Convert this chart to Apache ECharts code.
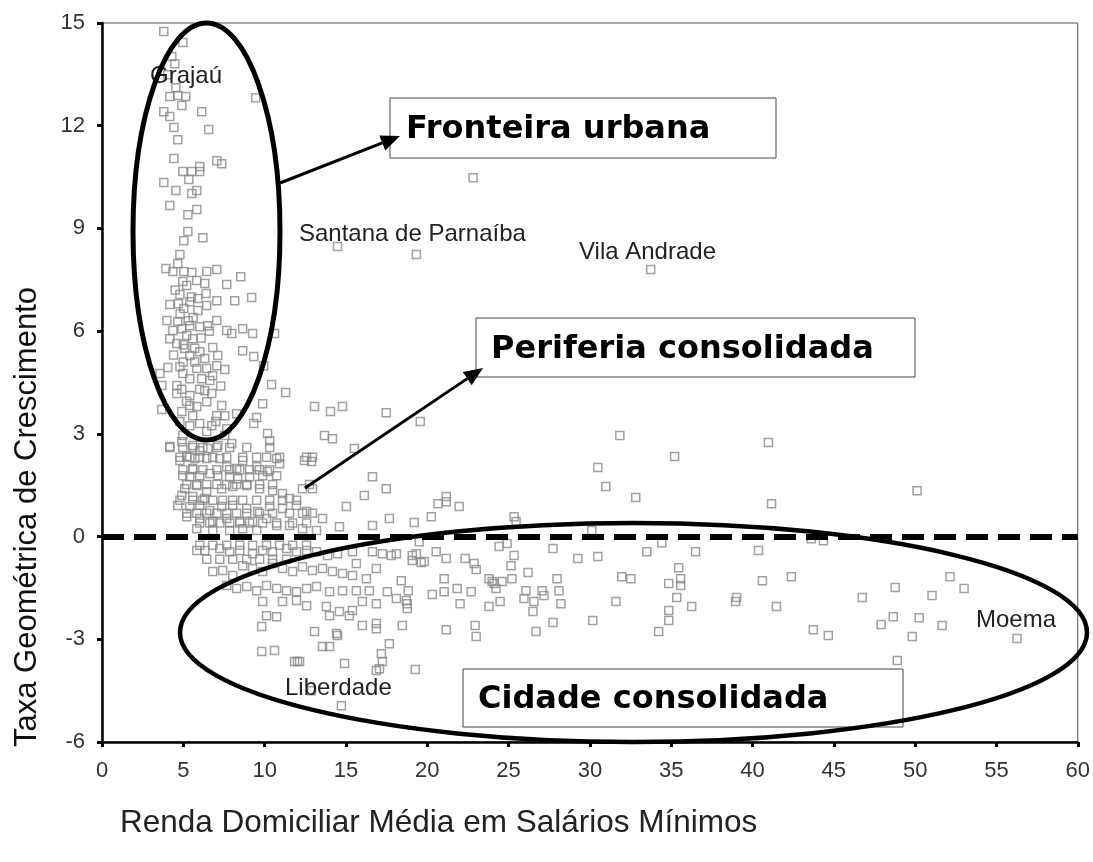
<!DOCTYPE html>
<html>
<head>
<meta charset="utf-8">
<script src="https://cdn.jsdelivr.net/npm/echarts@6/dist/echarts.min.js"></script>
<style>
html,body{margin:0;padding:0;background:#fff;}
#chart{width:1093px;height:862px;}
</style>
</head>
<body>
<div id="chart"></div>
<script>
// Axis ticks
const xTicks = [0, 5, 10, 15, 20, 25, 30, 35, 40, 45, 50, 55, 60];
const yTicks = [-6, -3, 0, 3, 6, 9, 12, 15];

// [Renda domiciliar média (SM), Taxa geométrica de crescimento (%)]
const pontosFronteira = [
[3.80,14.75],[4.97,14.43],[4.29,14.02],[4.48,13.81],[4.05,13.49],[4.54,13.11],[4.17,12.85],[4.66,12.88],[5.15,12.85],[4.91,12.59],
[9.45,12.82],[3.80,12.41],[4.17,12.27],[6.13,12.41],[4.42,11.95],[6.56,11.89],[4.66,11.59],[4.42,11.04],[7.06,10.98],[7.36,10.89],
[4.97,10.66],[5.52,10.66],[6.01,10.81],[6.01,10.66],[5.34,10.43],[3.80,10.34],[4.54,10.11],[5.52,10.02],[5.83,10.11],[4.17,9.67],
[5.28,9.40],[5.83,9.55],[5.28,8.91],[6.20,8.73],[5.03,8.64],[4.79,8.24],[4.66,7.97],[3.93,7.83],[4.36,7.74],[5.03,7.74],
[5.52,7.71],[6.44,7.74],[7.06,7.80],[8.53,7.59],[4.97,7.45],[5.21,7.33],[5.83,7.48],[6.32,7.39],[7.67,7.36],
[4.17,6.78],[4.79,7.07],[5.40,6.86],[5.89,6.95],[6.44,6.75],[7.06,6.89],[8.16,6.89],[9.20,6.98],[5.03,6.66],
[3.99,6.31],[4.66,6.28],[4.36,6.02],[4.91,6.07],[5.40,6.16],[6.01,6.13],[6.50,6.16],[7.06,6.31],[7.67,6.02],[7.98,5.93],
[8.65,6.07],[9.26,5.93],[10.61,5.93],[4.17,5.78],[4.60,5.64],[5.21,5.87],[5.58,5.78],
[5.09,5.49],[5.40,5.29],[6.01,5.40],[6.32,5.20],[6.81,5.52],[7.12,5.29],[8.65,5.43],[9.33,5.26],[9.94,4.99],[4.05,4.94],
[4.79,4.96],[4.97,4.76],[5.83,4.91],[6.44,4.91],[7.06,4.99],[7.55,4.88],
[3.56,4.76],[3.68,4.41],[4.60,4.41],[5.40,4.61],[6.13,4.61],[6.63,4.56],[6.32,4.26],[6.75,4.18],[5.40,4.12],[4.60,4.18],
[10.43,4.44],[11.29,4.21],
[4.50,7.20],[4.80,6.50],[5.60,6.40],[6.10,5.80],[4.40,5.30],[5.70,5.10],[6.80,4.70],[4.90,4.30],[5.20,3.95],[5.00,5.60],
[5.30,6.30],[5.90,6.60],[6.60,6.00],[5.00,5.10],[6.00,4.30],[7.30,4.40],[5.70,5.50],[4.70,6.80],[5.50,7.00],[6.40,7.10]
];

const pontosPeriferia = [
[3.68,3.71],[4.91,3.65],[5.40,3.83],[5.83,3.80],[6.44,3.94],[7.36,3.83],[7.55,3.53],[8.28,3.59],[9.51,3.48],[9.88,3.88],
[13.07,3.80],[14.05,3.65],[14.79,3.80],[17.48,3.62],[7.06,3.53],[5.58,3.53],
[4.79,3.36],[5.40,3.24],[6.01,3.30],[6.75,3.24],[6.99,3.36],[7.67,3.15],[9.33,3.30],[10.18,3.01],[10.31,2.80],[4.97,2.95],
[6.44,3.07],[7.55,2.95],[13.68,2.95],[14.17,2.86],
[4.17,2.63],[4.91,2.77],[5.58,2.66],[6.01,2.51],[6.50,2.57],[7.12,2.66],[7.98,2.72],[4.79,2.22],[5.21,2.34],[5.71,2.28],
[6.44,2.28],[7.24,2.28],[8.65,2.22],[9.51,2.04],[10.18,1.90],[10.74,2.28],[10.92,2.13],[12.45,2.22],[12.88,2.19],[15.52,2.57],
[5.58,1.99],[8.28,1.99],[7.67,2.04],
[4.97,1.78],[5.40,1.75],[6.01,1.78],[6.63,1.84],[7.12,1.78],[7.85,1.75],[8.34,1.69],[9.08,1.75],[9.88,1.78],[10.74,1.78],
[5.09,1.40],[5.83,1.49],[6.44,1.31],[7.36,1.40],[8.04,1.46],[8.90,1.49],[9.69,1.40],[10.49,1.34],[11.10,1.26],[11.53,1.11],
[12.33,1.40],[12.94,1.40],[16.63,1.75],[17.48,1.40],[16.13,1.20],[4.91,1.20],[5.58,1.17],[6.32,1.11],
[4.66,0.91],[5.40,0.88],[6.01,0.91],[6.63,0.76],[7.36,0.88],[8.04,0.91],[8.90,0.82],[9.57,0.73],[10.31,0.88],[11.10,0.82],
[11.96,0.91],[12.58,0.73],[13.56,0.53],[15.03,0.88],[16.63,0.32],[5.21,0.58],[6.01,0.53],[6.81,0.44],[7.67,0.53],[8.47,0.44],
[9.26,0.44],[10.12,0.53],[10.74,0.32],[11.53,0.32],[12.33,0.23],[13.19,0.18],[5.83,0.23],[6.81,0.18],[7.85,0.18],[8.65,0.23],
[9.51,0.18],[14.60,0.29],
[4.17,2.60],[4.97,2.60],[5.58,2.60],[6.20,2.60],[7.06,2.60],[7.85,2.60],[8.90,2.60],[10.31,2.60],
[4.79,2.32],[5.40,2.32],[6.01,2.32],[6.81,2.32],[7.67,2.32],[8.65,2.32],[9.51,2.32],[10.12,2.32],[10.92,2.32],[12.58,2.32],[12.94,2.32],
[4.97,1.95],[5.58,1.95],[6.20,1.95],[7.06,1.95],[7.85,1.95],[8.47,1.95],[9.08,1.95],[9.69,1.95],[10.31,1.95],
[5.21,1.52],[5.83,1.52],[6.44,1.52],[7.06,1.52],[7.67,1.52],[8.28,1.52],[8.90,1.52],[9.69,1.52],[10.49,1.52],[12.76,1.52],
[4.79,1.06],[5.58,1.06],[6.20,1.06],[6.81,1.06],[7.42,1.06],[8.04,1.06],[8.65,1.06],[9.51,1.06],[10.31,1.06],[11.10,1.06],[11.96,1.06],
[5.21,0.68],[5.83,0.68],[6.44,0.68],[7.06,0.68],[7.67,0.68],[8.28,0.68],[8.90,0.68],[9.69,0.68],[10.49,0.68],[11.53,0.68],[12.33,0.68],[12.94,0.68],
[6.01,0.40],[6.63,0.40],[7.24,0.40],[7.85,0.40],[8.47,0.40],[9.08,0.40],[9.88,0.40],[10.74,0.40],[11.72,0.40],[12.58,0.40],
[19.57,3.36],[31.84,2.95],[35.21,2.34],[40.98,2.75],[30.49,2.02],[30.98,1.46],[32.82,1.14],[41.17,0.96],[21.17,1.17],[21.17,1.02],
[20.67,0.96],[21.96,0.88],[20.25,0.58],[17.67,0.53],[19.20,0.41],[25.34,0.58],[25.46,0.44],[30.12,0.18],[50.12,1.34]
];

const pontosCidade = [
[5.83,-0.41],[6.32,-0.41],[7.24,-0.35],[7.85,-0.44],[8.47,-0.41],[9.26,-0.50],[9.88,-0.41],[10.49,-0.44],[11.35,-0.35],[11.96,-0.44],
[12.58,-0.41],[13.19,-0.44],[13.87,-0.55],[14.48,-0.50],[15.40,-0.44],[16.63,-0.44],[17.24,-0.50],[18.10,-0.50],[19.08,-0.55],
[6.01,-0.25],[6.81,-0.25],[7.67,-0.25],[8.47,-0.25],[9.26,-0.25],[10.12,-0.25],[10.92,-0.25],[11.72,-0.25],[12.58,-0.25],
[6.44,-0.66],[7.24,-0.66],[8.04,-0.66],[8.90,-0.66],[9.69,-0.66],[10.49,-0.66],[11.35,-0.66],
[6.81,-1.02],[7.42,-0.99],[8.04,-1.14],[8.65,-0.85],[9.26,-0.93],[9.88,-1.02],[10.49,-0.79],[11.10,-0.93],[11.72,-1.02],[12.33,-0.88],
[12.94,-0.99],[13.56,-0.93],[14.17,-1.02],[14.79,-1.08],[15.40,-1.14],[15.64,-0.79],[16.26,-1.23],[16.87,-0.93],
[7.67,-1.43],[8.28,-1.52],[8.90,-1.46],[9.51,-1.58],[10.12,-1.43],[10.74,-1.52],[11.35,-1.58],[11.96,-1.61],[12.58,-1.52],[13.19,-1.46],
[13.99,-1.61],[14.79,-1.58],[15.64,-1.58],[16.44,-1.58],[18.10,-1.81],
[9.88,-1.90],[11.10,-1.90],[11.96,-1.87],[12.58,-2.02],[13.80,-2.04],[13.99,-2.31],[14.60,-2.19],[15.40,-2.16],[16.01,-1.90],[16.87,-1.96],
[10.12,-2.31],[10.74,-2.34],[15.21,-2.31],
[9.82,-2.63],[13.07,-2.77],[14.42,-2.83],[14.48,-2.89],[16.01,-2.60],[16.87,-2.54],[16.87,-2.69],[9.82,-3.36],[10.61,-3.33],[13.56,-3.21],
[13.99,-3.21],[11.84,-3.65],[12.02,-3.65],[12.15,-3.65],[14.91,-3.71],[16.87,-3.91],[12.88,-4.50],[14.72,-4.94],
[34.42,-0.18],[19.51,-0.15],[19.33,-0.50],[17.79,-0.55],[19.08,-0.70],[19.63,-0.76],[19.82,-0.73],[20.55,-0.44],[21.17,-0.64],[22.33,-0.64],
[22.88,-0.79],[23.01,-0.96],[24.42,-0.29],[24.91,-0.20],[25.34,-0.55],[25.15,-0.85],[27.73,-0.35],[29.26,-0.64],[30.49,-0.58],[33.50,-0.44],
[36.50,-0.44],[40.37,-0.41],[35.46,-0.91],[18.40,-1.29],[17.55,-1.61],[18.83,-1.58],[18.71,-1.87],[18.77,-1.96],[18.77,-2.10],[21.04,-1.23],
[21.04,-1.61],[20.31,-1.69],[21.84,-1.52],[22.02,-1.96],[22.70,-1.61],[23.80,-1.23],[23.99,-1.31],[24.23,-1.52],[24.60,-1.31],[24.11,-1.37],
[25.21,-1.23],[26.20,-1.05],[26.07,-1.58],[25.95,-1.81],[26.56,-1.90],[26.50,-2.19],[27.06,-1.58],[27.18,-1.72],[27.98,-1.23],[28.10,-1.58],
[28.22,-1.96],[24.48,-1.90],[23.80,-2.04],[31.96,-1.17],[32.52,-1.23],[31.60,-1.90],[30.18,-2.45],[34.85,-1.37],[35.58,-1.23],[35.58,-1.43],
[35.34,-1.78],[36.26,-2.04],[34.85,-2.16],[34.85,-2.45],[34.23,-2.77],[39.02,-1.78],[38.96,-1.90],[40.61,-1.29],[41.47,-2.04],[27.73,-2.51],
[26.69,-2.77],[22.94,-2.60],[23.01,-2.92],[21.17,-2.72],[18.47,-2.60],[17.67,-3.13],[17.18,-3.42],[17.24,-3.65],[17.06,-3.86],[19.26,-3.88],
[43.62,-0.06],[44.36,-0.12],[42.39,-1.17],[43.74,-2.72],[44.66,-2.89],[46.75,-1.78],[48.77,-1.49],[48.65,-2.34],[47.91,-2.57],[49.82,-2.92],
[48.90,-3.62],[50.25,-2.37],[51.04,-1.72],[51.66,-2.60],[52.15,-1.17],[53.01,-1.52],[56.26,-2.98]
];

const pontosIsolados = [[22.82,10.48],[14.48,8.47],[19.33,8.24],[33.74,7.80]];

const rotulos = ['Grajaú', 'Santana de Parnaíba', 'Vila Andrade', 'Liberdade', 'Moema'];
const regioes = ['Fronteira urbana', 'Periferia consolidada', 'Cidade consolidada'];
const tituloX = 'Renda Domiciliar Média em Salários Mínimos';
const tituloY = 'Taxa Geométrica de Crescimento';

const allPoints = pontosFronteira.concat(pontosPeriferia, pontosCidade, pontosIsolados);

const chart = echarts.init(document.getElementById('chart'), null, {renderer: 'canvas'});

const tickFont = {fontFamily: 'Liberation Sans, Arial, sans-serif', fontSize: 22, color: '#333'};
const labelStyle = {fontFamily: 'Liberation Sans, Arial, sans-serif', fontSize: 24, fill: '#222'};
const boxFont = {fontFamily: 'DejaVu Sans, Verdana, sans-serif', fontWeight: 'bold', fontSize: 32, fill: '#000'};

function arrow(x1, y1, x2, y2) {
  const dx = x2 - x1, dy = y2 - y1, len = Math.hypot(dx, dy);
  const ux = dx / len, uy = dy / len, px = -uy, py = ux;
  const hl = 19, hw = 8;
  const bx = x2 - ux * hl, by = y2 - uy * hl;
  return [
    {type: 'line', z: 110, shape: {x1: x1, y1: y1, x2: bx, y2: by}, style: {stroke: '#000', lineWidth: 3}},
    {type: 'polygon', z: 110, shape: {points: [[x2, y2], [bx + px * hw, by + py * hw], [bx - px * hw, by - py * hw]]}, style: {fill: '#000'}}
  ];
}

const graphics = [
  {type: 'rect', z: 100, shape: {x: 390, y: 98, width: 386, height: 60}, style: {fill: '#fff', stroke: '#444', lineWidth: 1}},
  {type: 'rect', z: 100, shape: {x: 476, y: 318, width: 439, height: 59}, style: {fill: '#fff', stroke: '#444', lineWidth: 1}},
  {type: 'rect', z: 100, shape: {x: 463, y: 669, width: 440, height: 58}, style: {fill: '#fff', stroke: '#444', lineWidth: 1}},
  {type: 'text', z: 101, x: 406, y: 130, style: Object.assign({text: regioes[0], textVerticalAlign: 'middle'}, boxFont)},
  {type: 'text', z: 101, x: 491, y: 350, style: Object.assign({text: regioes[1], textVerticalAlign: 'middle'}, boxFont)},
  {type: 'text', z: 101, x: 478, y: 700, style: Object.assign({text: regioes[2], textVerticalAlign: 'middle'}, boxFont)},
  {type: 'ellipse', z: 105, shape: {cx: 206.5, cy: 231.5, rx: 73.5, ry: 208.5}, style: {fill: 'none', stroke: '#000', lineWidth: 5}},
  {type: 'ellipse', z: 105, shape: {cx: 633.5, cy: 632.5, rx: 453.5, ry: 109.5}, style: {fill: 'none', stroke: '#000', lineWidth: 4.5}},
  {type: 'text', z: 102, x: 150, y: 76, style: Object.assign({text: rotulos[0], textVerticalAlign: 'middle'}, labelStyle)},
  {type: 'text', z: 102, x: 299, y: 234, style: Object.assign({text: rotulos[1], textVerticalAlign: 'middle'}, labelStyle)},
  {type: 'text', z: 102, x: 579, y: 252, style: Object.assign({text: rotulos[2], textVerticalAlign: 'middle'}, labelStyle)},
  {type: 'text', z: 102, x: 285, y: 688, style: Object.assign({text: rotulos[3], textVerticalAlign: 'middle'}, labelStyle)},
  {type: 'text', z: 102, x: 976, y: 620, style: Object.assign({text: rotulos[4], textVerticalAlign: 'middle'}, labelStyle)},
  {type: 'text', z: 102, x: 27, y: 517, rotation: Math.PI / 2,
    style: {text: tituloY, fontFamily: 'Liberation Sans, Arial, sans-serif', fontSize: 31, fill: '#111', textAlign: 'center', textVerticalAlign: 'middle'}},
  {type: 'text', z: 102, x: 120, y: 823,
    style: {text: tituloX, fontFamily: 'Liberation Sans, Arial, sans-serif', fontSize: 31.5, fill: '#222', textVerticalAlign: 'middle'}}
].concat(arrow(280, 183, 400, 136), arrow(305, 488, 483, 368));

chart.setOption({
  animation: false,
  backgroundColor: '#fff',
  grid: {left: 102, right: 13, top: 23, bottom: 120, show: true, borderColor: '#555', borderWidth: 1, containLabel: false},
  xAxis: {
    type: 'value', min: xTicks[0], max: xTicks[xTicks.length - 1], interval: 5,
    axisLine: {show: true, onZero: false, lineStyle: {color: '#000', width: 2.5}},
    axisTick: {show: true, length: 5, lineStyle: {color: '#000', width: 3}},
    axisLabel: Object.assign({margin: 18}, tickFont),
    splitLine: {show: false}
  },
  yAxis: {
    type: 'value', min: yTicks[0], max: yTicks[yTicks.length - 1], interval: 3,
    axisLine: {show: true, onZero: false, lineStyle: {color: '#000', width: 2.5}},
    axisTick: {show: true, length: 5, lineStyle: {color: '#000', width: 3}},
    axisLabel: Object.assign({margin: 17}, tickFont),
    splitLine: {show: false}
  },
  series: [{
    type: 'scatter',
    data: allPoints,
    symbol: 'rect',
    symbolSize: 8,
    itemStyle: {color: 'rgba(255,255,255,0)', borderColor: '#8a8a8a', borderWidth: 1.5},
    silent: true,
    markLine: {
      silent: true,
      symbol: ['none', 'none'],
      label: {show: false},
      lineStyle: {color: '#000', width: 6, type: [22, 10]},
      data: [{yAxis: 0}]
    }
  }],
  graphic: graphics
});
</script>
</body>
</html>
